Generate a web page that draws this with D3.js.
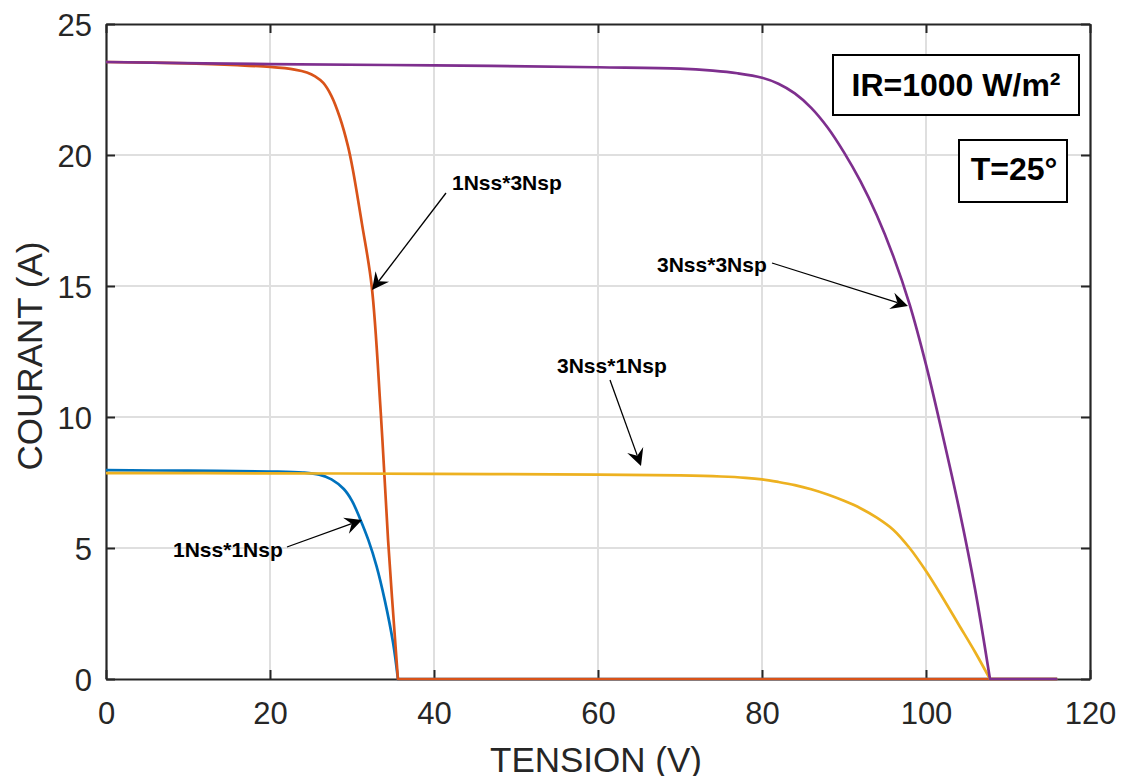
<!DOCTYPE html>
<html>
<head>
<meta charset="utf-8" />
<style>
  body { margin: 0; background: #fff; }
  svg text { font-family: "Liberation Sans", Arial, sans-serif; fill: #262626; }
  .lbl { font-weight: bold; fill: #000; }
</style>
</head>
<body>
<svg id="chart" width="1128" height="776"></svg>
<script src="https://cdnjs.cloudflare.com/ajax/libs/d3/7.8.5/d3.min.js"></script>
<script>
// values (tension in V, courant in A)
var xTicks = [0, 20, 40, 60, 80, 100, 120];
var yTicks = [0, 5, 10, 15, 20, 25];

var v1x1 = [0, 10, 20, 24, 26, 27.5, 29, 30, 31, 32, 33, 34, 35, 35.6, 116];
var i1x1 = [7.97, 7.95, 7.92, 7.88, 7.8, 7.62, 7.25, 6.8, 6.1, 5.3, 4.3, 3.0, 1.4, 0, 0];

var v1x3 = [0, 10, 16, 20, 23, 24.5, 25.5, 26.5, 27.5, 28.5, 29.5, 30.1, 31.2, 32.4, 33.5, 34.4, 35.6, 116];
var i1x3 = [23.55, 23.5, 23.43, 23.36, 23.26, 23.15, 23.0, 22.75, 22.25, 21.45, 20.35, 19.45, 17.4, 15.0, 10.2, 5.3, 0, 0];

var v3x1 = [0, 20, 40, 60, 70, 75, 78, 80, 82, 84, 86, 88, 90, 92, 94, 96, 98, 100, 102, 104, 106, 107.8, 116];
var i3x1 = [7.86, 7.85, 7.83, 7.8, 7.77, 7.73, 7.68, 7.62, 7.52, 7.4, 7.24, 7.04, 6.8, 6.52, 6.16, 5.7, 5.0, 4.12, 3.12, 2.07, 1.02, 0, 0];

var v3x3 = [0, 20, 40, 60, 70, 74, 77, 80, 82, 84, 86, 88, 90, 92, 94, 96, 98, 100, 102, 104, 106, 107.8, 116];
var i3x3 = [23.55, 23.47, 23.42, 23.35, 23.3, 23.22, 23.12, 22.95, 22.72, 22.35, 21.8, 21.05, 20.1, 19.0, 17.7, 16.15, 14.3, 12.0, 9.35, 6.55, 3.4, 0, 0];

var seriesNames = ["1Nss*1Nsp", "1Nss*3Nsp", "3Nss*1Nsp", "3Nss*3Nsp"];
var colors = ["#0072BD", "#D95319", "#EDB120", "#7E2F8E"];

var svg = d3.select("#chart");
var plotL = 106, plotR = 1090, plotT = 24, plotB = 679;

var x = d3.scaleLinear().domain([0, 120]).range([plotL, plotR]);
var y = d3.scaleLinear().domain([0, 25]).range([plotB, plotT]);

// grid
var grid = svg.append("g");
grid.selectAll(".gx").data(xTicks.slice(1, -1)).enter().append("line")
  .attr("x1", function (d) { return x(d); }).attr("x2", function (d) { return x(d); })
  .attr("y1", plotT).attr("y2", plotB)
  .attr("stroke", "#dfdfdf").attr("stroke-width", 2);
grid.selectAll(".gy").data(yTicks.slice(1, -1)).enter().append("line")
  .attr("y1", function (d) { return y(d); }).attr("y2", function (d) { return y(d); })
  .attr("x1", plotL).attr("x2", plotR)
  .attr("stroke", "#dfdfdf").attr("stroke-width", 2);

// axes (ticks inside, box all round)
function styleAxis(g) {
  g.select(".domain").attr("stroke", "#262626").attr("stroke-width", 2.2);
  g.selectAll(".tick line").attr("stroke", "#262626").attr("stroke-width", 2);
}

var xAxis = svg.append("g").attr("transform", "translate(0," + plotB + ")")
  .call(d3.axisBottom(x).tickValues(xTicks).tickSize(-9).tickSizeOuter(0).tickFormat(d3.format("d")));
xAxis.selectAll(".tick text").attr("y", 45).attr("dy", 0).style("font-size", "31px");
styleAxis(xAxis);

var yAxis = svg.append("g").attr("transform", "translate(" + plotL + ",0)")
  .call(d3.axisLeft(y).tickValues(yTicks).tickSize(-9).tickSizeOuter(0).tickPadding(14));
yAxis.selectAll(".tick text").attr("dy", "0.36em").style("font-size", "31px");
styleAxis(yAxis);

var xTop = svg.append("g").attr("transform", "translate(0," + plotT + ")")
  .call(d3.axisTop(x).tickValues(xTicks).tickSize(-9).tickSizeOuter(0).tickFormat(""));
styleAxis(xTop);

var yRight = svg.append("g").attr("transform", "translate(" + plotR + ",0)")
  .call(d3.axisRight(y).tickValues(yTicks).tickSize(-9).tickSizeOuter(0).tickFormat(""));
styleAxis(yRight);

// axis titles
svg.append("text").attr("x", 596).attr("y", 772).attr("text-anchor", "middle")
  .style("font-size", "35px").text("TENSION (V)");
svg.append("text").attr("transform", "translate(42,356) rotate(-90)").attr("text-anchor", "middle")
  .style("font-size", "35px").text("COURANT (A)");

// curves: smooth part up to the open-circuit point, then flat at zero
var smooth = d3.line()
  .x(function (d) { return x(d[0]); })
  .y(function (d) { return y(d[1]); })
  .curve(d3.curveCatmullRom.alpha(0.5));

var series = [[v1x1, i1x1], [v1x3, i1x3], [v3x1, i3x1], [v3x3, i3x3]];
series.forEach(function (s, k) {
  var pts = s[0].map(function (v, j) { return [v, s[1][j]]; });
  var z = s[1].indexOf(0);
  var d = smooth(pts.slice(0, z + 1));
  for (var j = z + 1; j < pts.length; j++) d += "L" + x(pts[j][0]) + "," + y(pts[j][1]);
  svg.append("path")
    .attr("d", d)
    .attr("fill", "none")
    .attr("stroke", colors[k])
    .attr("stroke-width", 2.7)
    .attr("stroke-linejoin", "round");
});

// annotations: text position, arrow start, arrow tip
var notes = [
  { t: seriesNames[0], tx: 173, ty: 557, x1: 287, y1: 547, x2: 362, y2: 520 },
  { t: seriesNames[1], tx: 452, ty: 190, x1: 446, y1: 193, x2: 372, y2: 290 },
  { t: seriesNames[2], tx: 557, ty: 373, x1: 610, y1: 380, x2: 641, y2: 466 },
  { t: seriesNames[3], tx: 657, ty: 272, x1: 772, y1: 263, x2: 908, y2: 306 }
];

notes.forEach(function (n) {
  svg.append("text").attr("class", "lbl").attr("x", n.tx).attr("y", n.ty)
    .style("font-size", "21px").text(n.t);
  var ang = Math.atan2(n.y2 - n.y1, n.x2 - n.x1);
  var L = 17, W = 8.5, notch = 11;
  var c = Math.cos(ang), s = Math.sin(ang);
  var bx = n.x2 - notch * c, by = n.y2 - notch * s;
  svg.append("line").attr("x1", n.x1).attr("y1", n.y1).attr("x2", bx).attr("y2", by)
    .attr("stroke", "#000").attr("stroke-width", 1.3);
  var p1 = [n.x2 - L * c - W * s, n.y2 - L * s + W * c];
  var p2 = [n.x2 - L * c + W * s, n.y2 - L * s - W * c];
  svg.append("path")
    .attr("d", "M" + n.x2 + "," + n.y2 + "L" + p1 + "L" + bx + "," + by + "L" + p2 + "Z")
    .attr("fill", "#000");
});

// condition boxes
svg.append("rect").attr("x", 833).attr("y", 55).attr("width", 246).attr("height", 60)
  .attr("fill", "#fff").attr("stroke", "#000").attr("stroke-width", 2);
svg.append("text").attr("class", "lbl").attr("x", 956).attr("y", 96).attr("text-anchor", "middle")
  .style("font-size", "32px").text("IR=1000 W/m²");
svg.append("rect").attr("x", 959).attr("y", 140).attr("width", 108).attr("height", 62)
  .attr("fill", "#fff").attr("stroke", "#000").attr("stroke-width", 2);
svg.append("text").attr("class", "lbl").attr("x", 1014).attr("y", 180).attr("text-anchor", "middle")
  .style("font-size", "32px").text("T=25°");
</script>
</body>
</html>
